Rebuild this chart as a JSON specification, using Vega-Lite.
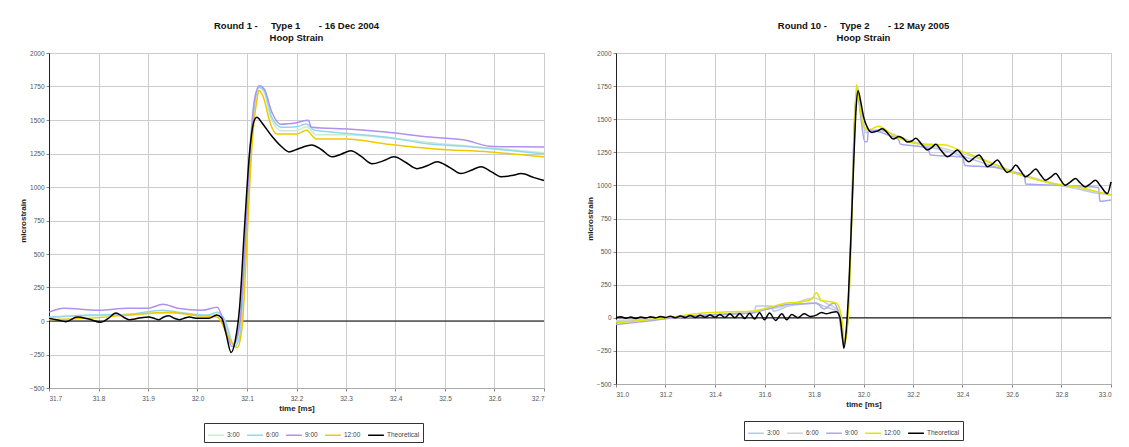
{
  "$schema": "https://vega.github.io/schema/vega-lite/v6.json",
  "background": "white",
  "padding": {"left": 18, "top": 20, "right": 10, "bottom": 2},
  "spacing": 72,
  "bounds": "flush",
  "config": {
    "font": "Liberation Sans",
    "view": {"stroke": "#bbbbbb"},
    "axis": {"labelFont": "Liberation Sans", "labelFontSize": 6.5, "labelColor": "#555555", "titleFont": "Liberation Sans", "titleFontSize": 8, "titleFontWeight": "bold", "titleColor": "#222222", "gridColor": "#cccccc", "tickColor": "#888888", "tickSize": 3},
    "axisY": {"domainColor": "#222222", "titlePadding": 2, "labelPadding": 2},
    "axisX": {"domainColor": "#aaaaaa", "labelPadding": 4, "titlePadding": 3},
    "title": {"font": "Liberation Sans", "fontSize": 9.5, "fontWeight": "bold", "color": "#111111", "anchor": "middle", "offset": 8, "lineHeight": 12},
    "legend": {"orient": "none", "direction": "horizontal", "title": null, "symbolType": "stroke", "symbolStrokeWidth": 1.5, "symbolSize": 250, "labelFontSize": 6.5, "labelColor": "#444444", "strokeColor": "#333333", "padding": 3, "columnPadding": 4, "labelOffset": 2}
  },
  "resolve": {"scale": {"color": "independent", "x": "independent", "y": "independent"}, "legend": {"color": "independent"}},
  "datasets": {
    "left": [
      {"t": 31.7, "v": 25, "s": "3:00"}, {"t": 31.75, "v": 35, "s": "3:00"}, {"t": 31.8, "v": 40, "s": "3:00"}, {"t": 31.85, "v": 45, "s": "3:00"}, {"t": 31.9, "v": 55, "s": "3:00"}, {"t": 31.95, "v": 60, "s": "3:00"}, {"t": 32.0, "v": 40, "s": "3:00"}, {"t": 32.04, "v": 50, "s": "3:00"}, {"t": 32.055, "v": 0, "s": "3:00"}, {"t": 32.07, "v": -170, "s": "3:00"}, {"t": 32.08, "v": -150, "s": "3:00"}, {"t": 32.09, "v": 200, "s": "3:00"}, {"t": 32.1, "v": 900, "s": "3:00"}, {"t": 32.11, "v": 1500, "s": "3:00"}, {"t": 32.125, "v": 1740, "s": "3:00"}, {"t": 32.135, "v": 1700, "s": "3:00"}, {"t": 32.15, "v": 1500, "s": "3:00"}, {"t": 32.17, "v": 1420, "s": "3:00"}, {"t": 32.2, "v": 1420, "s": "3:00"}, {"t": 32.22, "v": 1450, "s": "3:00"}, {"t": 32.24, "v": 1390, "s": "3:00"}, {"t": 32.3, "v": 1390, "s": "3:00"}, {"t": 32.4, "v": 1360, "s": "3:00"}, {"t": 32.5, "v": 1320, "s": "3:00"}, {"t": 32.6, "v": 1290, "s": "3:00"}, {"t": 32.7, "v": 1255, "s": "3:00"},
      {"t": 31.7, "v": 30, "s": "6:00"}, {"t": 31.75, "v": 40, "s": "6:00"}, {"t": 31.78, "v": 44, "s": "6:00"}, {"t": 31.86, "v": 50, "s": "6:00"}, {"t": 31.93, "v": 81, "s": "6:00"}, {"t": 31.96, "v": 66, "s": "6:00"}, {"t": 32.02, "v": 44, "s": "6:00"}, {"t": 32.04, "v": 66, "s": "6:00"}, {"t": 32.055, "v": 10, "s": "6:00"}, {"t": 32.075, "v": -190, "s": "6:00"}, {"t": 32.085, "v": -120, "s": "6:00"}, {"t": 32.095, "v": 400, "s": "6:00"}, {"t": 32.105, "v": 1100, "s": "6:00"}, {"t": 32.115, "v": 1600, "s": "6:00"}, {"t": 32.125, "v": 1745, "s": "6:00"}, {"t": 32.135, "v": 1720, "s": "6:00"}, {"t": 32.15, "v": 1520, "s": "6:00"}, {"t": 32.17, "v": 1446, "s": "6:00"}, {"t": 32.2, "v": 1450, "s": "6:00"}, {"t": 32.22, "v": 1470, "s": "6:00"}, {"t": 32.235, "v": 1425, "s": "6:00"}, {"t": 32.27, "v": 1410, "s": "6:00"}, {"t": 32.38, "v": 1373, "s": "6:00"}, {"t": 32.47, "v": 1320, "s": "6:00"}, {"t": 32.55, "v": 1300, "s": "6:00"}, {"t": 32.6, "v": 1284, "s": "6:00"}, {"t": 32.7, "v": 1247, "s": "6:00"},
      {"t": 31.7, "v": 66, "s": "9:00"}, {"t": 31.73, "v": 96, "s": "9:00"}, {"t": 31.8, "v": 81, "s": "9:00"}, {"t": 31.86, "v": 96, "s": "9:00"}, {"t": 31.9, "v": 96, "s": "9:00"}, {"t": 31.93, "v": 125, "s": "9:00"}, {"t": 31.96, "v": 96, "s": "9:00"}, {"t": 32.01, "v": 81, "s": "9:00"}, {"t": 32.04, "v": 103, "s": "9:00"}, {"t": 32.05, "v": 30, "s": "9:00"}, {"t": 32.07, "v": -190, "s": "9:00"}, {"t": 32.085, "v": -30, "s": "9:00"}, {"t": 32.095, "v": 500, "s": "9:00"}, {"t": 32.105, "v": 1200, "s": "9:00"}, {"t": 32.115, "v": 1650, "s": "9:00"}, {"t": 32.125, "v": 1756, "s": "9:00"}, {"t": 32.135, "v": 1730, "s": "9:00"}, {"t": 32.15, "v": 1560, "s": "9:00"}, {"t": 32.168, "v": 1469, "s": "9:00"}, {"t": 32.2, "v": 1480, "s": "9:00"}, {"t": 32.224, "v": 1498, "s": "9:00"}, {"t": 32.23, "v": 1446, "s": "9:00"}, {"t": 32.31, "v": 1431, "s": "9:00"}, {"t": 32.38, "v": 1410, "s": "9:00"}, {"t": 32.47, "v": 1373, "s": "9:00"}, {"t": 32.54, "v": 1350, "s": "9:00"}, {"t": 32.59, "v": 1305, "s": "9:00"}, {"t": 32.65, "v": 1300, "s": "9:00"}, {"t": 32.7, "v": 1299, "s": "9:00"},
      {"t": 31.7, "v": 10, "s": "12:00"}, {"t": 31.78, "v": 20, "s": "12:00"}, {"t": 31.86, "v": 44, "s": "12:00"}, {"t": 31.94, "v": 66, "s": "12:00"}, {"t": 32.0, "v": 40, "s": "12:00"}, {"t": 32.04, "v": 30, "s": "12:00"}, {"t": 32.06, "v": -100, "s": "12:00"}, {"t": 32.08, "v": -200, "s": "12:00"}, {"t": 32.09, "v": -50, "s": "12:00"}, {"t": 32.1, "v": 600, "s": "12:00"}, {"t": 32.11, "v": 1300, "s": "12:00"}, {"t": 32.12, "v": 1650, "s": "12:00"}, {"t": 32.124, "v": 1720, "s": "12:00"}, {"t": 32.135, "v": 1650, "s": "12:00"}, {"t": 32.145, "v": 1500, "s": "12:00"}, {"t": 32.16, "v": 1395, "s": "12:00"}, {"t": 32.2, "v": 1395, "s": "12:00"}, {"t": 32.22, "v": 1424, "s": "12:00"}, {"t": 32.24, "v": 1358, "s": "12:00"}, {"t": 32.3, "v": 1358, "s": "12:00"}, {"t": 32.38, "v": 1321, "s": "12:00"}, {"t": 32.48, "v": 1284, "s": "12:00"}, {"t": 32.59, "v": 1262, "s": "12:00"}, {"t": 32.7, "v": 1225, "s": "12:00"},
      {"t": 31.7, "v": 20, "s": "Theoretical"}, {"t": 31.72, "v": 5, "s": "Theoretical"}, {"t": 31.734, "v": -5, "s": "Theoretical"}, {"t": 31.757, "v": 30, "s": "Theoretical"}, {"t": 31.78, "v": 15, "s": "Theoretical"}, {"t": 31.805, "v": -10, "s": "Theoretical"}, {"t": 31.82, "v": 20, "s": "Theoretical"}, {"t": 31.835, "v": 60, "s": "Theoretical"}, {"t": 31.85, "v": 30, "s": "Theoretical"}, {"t": 31.862, "v": 10, "s": "Theoretical"}, {"t": 31.88, "v": 20, "s": "Theoretical"}, {"t": 31.902, "v": 30, "s": "Theoretical"}, {"t": 31.912, "v": 20, "s": "Theoretical"}, {"t": 31.922, "v": 10, "s": "Theoretical"}, {"t": 31.932, "v": 30, "s": "Theoretical"}, {"t": 31.942, "v": 40, "s": "Theoretical"}, {"t": 31.953, "v": 20, "s": "Theoretical"}, {"t": 31.963, "v": 10, "s": "Theoretical"}, {"t": 31.973, "v": 20, "s": "Theoretical"}, {"t": 31.983, "v": 30, "s": "Theoretical"}, {"t": 32.0, "v": 20, "s": "Theoretical"}, {"t": 32.023, "v": 20, "s": "Theoretical"}, {"t": 32.039, "v": 45, "s": "Theoretical"}, {"t": 32.049, "v": 20, "s": "Theoretical"}, {"t": 32.058, "v": -100, "s": "Theoretical"}, {"t": 32.068, "v": -235, "s": "Theoretical"}, {"t": 32.076, "v": -150, "s": "Theoretical"}, {"t": 32.085, "v": 100, "s": "Theoretical"}, {"t": 32.095, "v": 700, "s": "Theoretical"}, {"t": 32.105, "v": 1250, "s": "Theoretical"}, {"t": 32.115, "v": 1500, "s": "Theoretical"}, {"t": 32.12, "v": 1520, "s": "Theoretical"}, {"t": 32.13, "v": 1480, "s": "Theoretical"}, {"t": 32.15, "v": 1380, "s": "Theoretical"}, {"t": 32.17, "v": 1300, "s": "Theoretical"}, {"t": 32.185, "v": 1262, "s": "Theoretical"}, {"t": 32.2, "v": 1280, "s": "Theoretical"}, {"t": 32.231, "v": 1314, "s": "Theoretical"}, {"t": 32.25, "v": 1280, "s": "Theoretical"}, {"t": 32.272, "v": 1225, "s": "Theoretical"}, {"t": 32.29, "v": 1245, "s": "Theoretical"}, {"t": 32.31, "v": 1270, "s": "Theoretical"}, {"t": 32.33, "v": 1230, "s": "Theoretical"}, {"t": 32.353, "v": 1173, "s": "Theoretical"}, {"t": 32.375, "v": 1195, "s": "Theoretical"}, {"t": 32.397, "v": 1225, "s": "Theoretical"}, {"t": 32.42, "v": 1185, "s": "Theoretical"}, {"t": 32.443, "v": 1137, "s": "Theoretical"}, {"t": 32.465, "v": 1160, "s": "Theoretical"}, {"t": 32.484, "v": 1188, "s": "Theoretical"}, {"t": 32.51, "v": 1145, "s": "Theoretical"}, {"t": 32.532, "v": 1100, "s": "Theoretical"}, {"t": 32.553, "v": 1125, "s": "Theoretical"}, {"t": 32.573, "v": 1151, "s": "Theoretical"}, {"t": 32.593, "v": 1115, "s": "Theoretical"}, {"t": 32.613, "v": 1077, "s": "Theoretical"}, {"t": 32.635, "v": 1085, "s": "Theoretical"}, {"t": 32.654, "v": 1100, "s": "Theoretical"}, {"t": 32.68, "v": 1070, "s": "Theoretical"}, {"t": 32.7, "v": 1048, "s": "Theoretical"}
    ],
    "right": [
      {"t": 31.0, "v": -30, "s": "3:00"}, {"t": 31.2, "v": -5, "s": "3:00"}, {"t": 31.4, "v": 20, "s": "3:00"}, {"t": 31.56, "v": 40, "s": "3:00"}, {"t": 31.565, "v": 90, "s": "3:00"}, {"t": 31.63, "v": 90, "s": "3:00"}, {"t": 31.635, "v": 50, "s": "3:00"}, {"t": 31.7, "v": 90, "s": "3:00"}, {"t": 31.8, "v": 110, "s": "3:00"}, {"t": 31.85, "v": 80, "s": "3:00"}, {"t": 31.9, "v": 40, "s": "3:00"}, {"t": 31.92, "v": -190, "s": "3:00"}, {"t": 31.935, "v": -40, "s": "3:00"}, {"t": 31.945, "v": 350, "s": "3:00"}, {"t": 31.955, "v": 950, "s": "3:00"}, {"t": 31.965, "v": 1500, "s": "3:00"}, {"t": 31.975, "v": 1740, "s": "3:00"}, {"t": 31.99, "v": 1550, "s": "3:00"}, {"t": 32.01, "v": 1400, "s": "3:00"}, {"t": 32.06, "v": 1420, "s": "3:00"}, {"t": 32.15, "v": 1360, "s": "3:00"}, {"t": 32.25, "v": 1300, "s": "3:00"}, {"t": 32.35, "v": 1250, "s": "3:00"}, {"t": 32.45, "v": 1190, "s": "3:00"}, {"t": 32.55, "v": 1130, "s": "3:00"}, {"t": 32.65, "v": 1070, "s": "3:00"}, {"t": 32.75, "v": 1020, "s": "3:00"}, {"t": 32.85, "v": 980, "s": "3:00"}, {"t": 32.95, "v": 940, "s": "3:00"}, {"t": 33.0, "v": 930, "s": "3:00"},
      {"t": 31.0, "v": -20, "s": "6:00"}, {"t": 31.3, "v": 10, "s": "6:00"}, {"t": 31.5, "v": 40, "s": "6:00"}, {"t": 31.7, "v": 95, "s": "6:00"}, {"t": 31.8, "v": 150, "s": "6:00"}, {"t": 31.85, "v": 110, "s": "6:00"}, {"t": 31.9, "v": 50, "s": "6:00"}, {"t": 31.922, "v": -200, "s": "6:00"}, {"t": 31.935, "v": -60, "s": "6:00"}, {"t": 31.945, "v": 350, "s": "6:00"}, {"t": 31.955, "v": 950, "s": "6:00"}, {"t": 31.965, "v": 1520, "s": "6:00"}, {"t": 31.975, "v": 1750, "s": "6:00"}, {"t": 31.99, "v": 1550, "s": "6:00"}, {"t": 32.01, "v": 1420, "s": "6:00"}, {"t": 32.1, "v": 1400, "s": "6:00"}, {"t": 32.2, "v": 1330, "s": "6:00"}, {"t": 32.3, "v": 1290, "s": "6:00"}, {"t": 32.4, "v": 1240, "s": "6:00"}, {"t": 32.5, "v": 1180, "s": "6:00"}, {"t": 32.6, "v": 1110, "s": "6:00"}, {"t": 32.7, "v": 1050, "s": "6:00"}, {"t": 32.8, "v": 1000, "s": "6:00"}, {"t": 32.9, "v": 965, "s": "6:00"}, {"t": 33.0, "v": 930, "s": "6:00"},
      {"t": 31.0, "v": -50, "s": "9:00"}, {"t": 31.1, "v": -30, "s": "9:00"}, {"t": 31.27, "v": 8, "s": "9:00"}, {"t": 31.4, "v": 25, "s": "9:00"}, {"t": 31.55, "v": 36, "s": "9:00"}, {"t": 31.6, "v": 60, "s": "9:00"}, {"t": 31.69, "v": 100, "s": "9:00"}, {"t": 31.75, "v": 105, "s": "9:00"}, {"t": 31.81, "v": 112, "s": "9:00"}, {"t": 31.84, "v": 66, "s": "9:00"}, {"t": 31.88, "v": 112, "s": "9:00"}, {"t": 31.9, "v": 30, "s": "9:00"}, {"t": 31.92, "v": -200, "s": "9:00"}, {"t": 31.935, "v": -50, "s": "9:00"}, {"t": 31.945, "v": 400, "s": "9:00"}, {"t": 31.955, "v": 1000, "s": "9:00"}, {"t": 31.965, "v": 1550, "s": "9:00"}, {"t": 31.975, "v": 1700, "s": "9:00"}, {"t": 31.99, "v": 1500, "s": "9:00"}, {"t": 32.005, "v": 1330, "s": "9:00"}, {"t": 32.015, "v": 1330, "s": "9:00"}, {"t": 32.02, "v": 1420, "s": "9:00"}, {"t": 32.1, "v": 1380, "s": "9:00"}, {"t": 32.14, "v": 1350, "s": "9:00"}, {"t": 32.15, "v": 1310, "s": "9:00"}, {"t": 32.2, "v": 1300, "s": "9:00"}, {"t": 32.26, "v": 1280, "s": "9:00"}, {"t": 32.27, "v": 1230, "s": "9:00"}, {"t": 32.36, "v": 1220, "s": "9:00"}, {"t": 32.4, "v": 1215, "s": "9:00"}, {"t": 32.41, "v": 1150, "s": "9:00"}, {"t": 32.5, "v": 1140, "s": "9:00"}, {"t": 32.55, "v": 1130, "s": "9:00"}, {"t": 32.6, "v": 1100, "s": "9:00"}, {"t": 32.65, "v": 1080, "s": "9:00"}, {"t": 32.655, "v": 1010, "s": "9:00"}, {"t": 32.8, "v": 1000, "s": "9:00"}, {"t": 32.95, "v": 985, "s": "9:00"}, {"t": 32.955, "v": 880, "s": "9:00"}, {"t": 33.0, "v": 890, "s": "9:00"},
      {"t": 31.0, "v": -40, "s": "12:00"}, {"t": 31.1, "v": -20, "s": "12:00"}, {"t": 31.2, "v": 0, "s": "12:00"}, {"t": 31.35, "v": 36, "s": "12:00"}, {"t": 31.45, "v": 45, "s": "12:00"}, {"t": 31.55, "v": 49, "s": "12:00"}, {"t": 31.62, "v": 80, "s": "12:00"}, {"t": 31.69, "v": 112, "s": "12:00"}, {"t": 31.75, "v": 120, "s": "12:00"}, {"t": 31.79, "v": 140, "s": "12:00"}, {"t": 31.81, "v": 190, "s": "12:00"}, {"t": 31.83, "v": 130, "s": "12:00"}, {"t": 31.85, "v": 125, "s": "12:00"}, {"t": 31.89, "v": 112, "s": "12:00"}, {"t": 31.91, "v": 20, "s": "12:00"}, {"t": 31.925, "v": -180, "s": "12:00"}, {"t": 31.935, "v": -60, "s": "12:00"}, {"t": 31.945, "v": 300, "s": "12:00"}, {"t": 31.955, "v": 900, "s": "12:00"}, {"t": 31.965, "v": 1500, "s": "12:00"}, {"t": 31.972, "v": 1760, "s": "12:00"}, {"t": 31.985, "v": 1600, "s": "12:00"}, {"t": 32.0, "v": 1450, "s": "12:00"}, {"t": 32.02, "v": 1420, "s": "12:00"}, {"t": 32.06, "v": 1446, "s": "12:00"}, {"t": 32.12, "v": 1380, "s": "12:00"}, {"t": 32.2, "v": 1321, "s": "12:00"}, {"t": 32.27, "v": 1310, "s": "12:00"}, {"t": 32.33, "v": 1306, "s": "12:00"}, {"t": 32.4, "v": 1255, "s": "12:00"}, {"t": 32.47, "v": 1207, "s": "12:00"}, {"t": 32.54, "v": 1150, "s": "12:00"}, {"t": 32.6, "v": 1100, "s": "12:00"}, {"t": 32.67, "v": 1060, "s": "12:00"}, {"t": 32.74, "v": 1024, "s": "12:00"}, {"t": 32.8, "v": 1005, "s": "12:00"}, {"t": 32.87, "v": 986, "s": "12:00"}, {"t": 32.94, "v": 955, "s": "12:00"}, {"t": 33.0, "v": 925, "s": "12:00"},
      {"t": 31.0, "v": 0, "s": "Theoretical"}, {"t": 31.02, "v": 8, "s": "Theoretical"}, {"t": 31.04, "v": -3, "s": "Theoretical"}, {"t": 31.06, "v": 6, "s": "Theoretical"}, {"t": 31.08, "v": -5, "s": "Theoretical"}, {"t": 31.1, "v": 6, "s": "Theoretical"}, {"t": 31.12, "v": -2, "s": "Theoretical"}, {"t": 31.14, "v": 8, "s": "Theoretical"}, {"t": 31.16, "v": 0, "s": "Theoretical"}, {"t": 31.18, "v": 10, "s": "Theoretical"}, {"t": 31.2, "v": 2, "s": "Theoretical"}, {"t": 31.22, "v": 12, "s": "Theoretical"}, {"t": 31.24, "v": 0, "s": "Theoretical"}, {"t": 31.26, "v": 14, "s": "Theoretical"}, {"t": 31.28, "v": 2, "s": "Theoretical"}, {"t": 31.3, "v": 18, "s": "Theoretical"}, {"t": 31.32, "v": 2, "s": "Theoretical"}, {"t": 31.34, "v": 20, "s": "Theoretical"}, {"t": 31.36, "v": 4, "s": "Theoretical"}, {"t": 31.38, "v": 22, "s": "Theoretical"}, {"t": 31.4, "v": 4, "s": "Theoretical"}, {"t": 31.42, "v": 25, "s": "Theoretical"}, {"t": 31.44, "v": 2, "s": "Theoretical"}, {"t": 31.46, "v": 30, "s": "Theoretical"}, {"t": 31.48, "v": 0, "s": "Theoretical"}, {"t": 31.5, "v": 32, "s": "Theoretical"}, {"t": 31.52, "v": -5, "s": "Theoretical"}, {"t": 31.54, "v": 35, "s": "Theoretical"}, {"t": 31.56, "v": -10, "s": "Theoretical"}, {"t": 31.58, "v": 38, "s": "Theoretical"}, {"t": 31.6, "v": -15, "s": "Theoretical"}, {"t": 31.62, "v": 36, "s": "Theoretical"}, {"t": 31.645, "v": -20, "s": "Theoretical"}, {"t": 31.67, "v": 30, "s": "Theoretical"}, {"t": 31.69, "v": -15, "s": "Theoretical"}, {"t": 31.71, "v": 25, "s": "Theoretical"}, {"t": 31.735, "v": 0, "s": "Theoretical"}, {"t": 31.76, "v": 30, "s": "Theoretical"}, {"t": 31.785, "v": 10, "s": "Theoretical"}, {"t": 31.81, "v": 20, "s": "Theoretical"}, {"t": 31.83, "v": 40, "s": "Theoretical"}, {"t": 31.85, "v": 30, "s": "Theoretical"}, {"t": 31.87, "v": 40, "s": "Theoretical"}, {"t": 31.89, "v": 45, "s": "Theoretical"}, {"t": 31.905, "v": 0, "s": "Theoretical"}, {"t": 31.915, "v": -150, "s": "Theoretical"}, {"t": 31.921, "v": -230, "s": "Theoretical"}, {"t": 31.93, "v": -100, "s": "Theoretical"}, {"t": 31.94, "v": 200, "s": "Theoretical"}, {"t": 31.95, "v": 650, "s": "Theoretical"}, {"t": 31.96, "v": 1150, "s": "Theoretical"}, {"t": 31.97, "v": 1580, "s": "Theoretical"}, {"t": 31.978, "v": 1715, "s": "Theoretical"}, {"t": 31.99, "v": 1620, "s": "Theoretical"}, {"t": 32.0, "v": 1520, "s": "Theoretical"}, {"t": 32.015, "v": 1440, "s": "Theoretical"}, {"t": 32.034, "v": 1400, "s": "Theoretical"}, {"t": 32.055, "v": 1410, "s": "Theoretical"}, {"t": 32.076, "v": 1428, "s": "Theoretical"}, {"t": 32.09, "v": 1410, "s": "Theoretical"}, {"t": 32.103, "v": 1382, "s": "Theoretical"}, {"t": 32.12, "v": 1350, "s": "Theoretical"}, {"t": 32.143, "v": 1369, "s": "Theoretical"}, {"t": 32.16, "v": 1355, "s": "Theoretical"}, {"t": 32.177, "v": 1327, "s": "Theoretical"}, {"t": 32.195, "v": 1335, "s": "Theoretical"}, {"t": 32.211, "v": 1357, "s": "Theoretical"}, {"t": 32.235, "v": 1310, "s": "Theoretical"}, {"t": 32.258, "v": 1268, "s": "Theoretical"}, {"t": 32.275, "v": 1285, "s": "Theoretical"}, {"t": 32.292, "v": 1311, "s": "Theoretical"}, {"t": 32.315, "v": 1260, "s": "Theoretical"}, {"t": 32.339, "v": 1217, "s": "Theoretical"}, {"t": 32.36, "v": 1240, "s": "Theoretical"}, {"t": 32.379, "v": 1268, "s": "Theoretical"}, {"t": 32.4, "v": 1225, "s": "Theoretical"}, {"t": 32.426, "v": 1179, "s": "Theoretical"}, {"t": 32.445, "v": 1205, "s": "Theoretical"}, {"t": 32.467, "v": 1230, "s": "Theoretical"}, {"t": 32.485, "v": 1185, "s": "Theoretical"}, {"t": 32.5, "v": 1141, "s": "Theoretical"}, {"t": 32.52, "v": 1160, "s": "Theoretical"}, {"t": 32.541, "v": 1192, "s": "Theoretical"}, {"t": 32.56, "v": 1145, "s": "Theoretical"}, {"t": 32.58, "v": 1098, "s": "Theoretical"}, {"t": 32.6, "v": 1120, "s": "Theoretical"}, {"t": 32.615, "v": 1154, "s": "Theoretical"}, {"t": 32.635, "v": 1110, "s": "Theoretical"}, {"t": 32.655, "v": 1065, "s": "Theoretical"}, {"t": 32.675, "v": 1090, "s": "Theoretical"}, {"t": 32.696, "v": 1123, "s": "Theoretical"}, {"t": 32.715, "v": 1080, "s": "Theoretical"}, {"t": 32.735, "v": 1039, "s": "Theoretical"}, {"t": 32.755, "v": 1060, "s": "Theoretical"}, {"t": 32.777, "v": 1090, "s": "Theoretical"}, {"t": 32.795, "v": 1045, "s": "Theoretical"}, {"t": 32.815, "v": 1001, "s": "Theoretical"}, {"t": 32.835, "v": 1025, "s": "Theoretical"}, {"t": 32.857, "v": 1052, "s": "Theoretical"}, {"t": 32.875, "v": 1020, "s": "Theoretical"}, {"t": 32.896, "v": 988, "s": "Theoretical"}, {"t": 32.915, "v": 1010, "s": "Theoretical"}, {"t": 32.937, "v": 1039, "s": "Theoretical"}, {"t": 32.96, "v": 990, "s": "Theoretical"}, {"t": 32.985, "v": 938, "s": "Theoretical"}, {"t": 33.0, "v": 1026, "s": "Theoretical"}
    ]
  },
  "hconcat": [
    {
      "width": 495,
      "height": 335,
      "title": {"text": ["Round 1 -\u00a0\u00a0\u00a0\u00a0 Type 1\u00a0\u00a0\u00a0\u00a0\u00a0\u00a0 - 16 Dec 2004", "Hoop Strain"]},
      "layer": [
        {
          "data": {"values": [{"z": 0}]},
          "mark": {"type": "rule", "color": "#000000", "strokeWidth": 1},
          "encoding": {"y": {"field": "z", "type": "quantitative", "title": "microstrain", "scale": {"domain": [-500, 2000], "nice": false}, "axis": {"values": [-500, -250, 0, 250, 500, 750, 1000, 1250, 1500, 1750, 2000], "format": "d"}}}
        },
        {
          "data": {"name": "left"},
          "mark": {"type": "line", "strokeWidth": 1.5, "interpolate": "monotone"},
          "encoding": {
            "x": {"field": "t", "type": "quantitative", "title": "time [ms]", "scale": {"domain": [31.7, 32.7], "nice": false, "zero": false}, "axis": {"values": [31.7, 31.8, 31.9, 32.0, 32.1, 32.2, 32.3, 32.4, 32.5, 32.6, 32.7], "format": ".1f"}},
            "y": {"field": "v", "type": "quantitative", "title": "microstrain", "scale": {"domain": [-500, 2000], "nice": false}, "axis": {"values": [-500, -250, 0, 250, 500, 750, 1000, 1250, 1500, 1750, 2000], "format": "d"}},
            "color": {"field": "s", "type": "nominal", "scale": {"domain": ["3:00", "6:00", "9:00", "12:00", "Theoretical"], "range": ["#c8ecd0", "#90d8f0", "#b090f0", "#f0c800", "#000000"]}, "legend": {"legendX": 155, "legendY": 370}},
            "order": {"field": "t", "type": "quantitative"}
          }
        }
      ]
    },
    {
      "width": 495,
      "height": 331,
      "title": {"text": ["Round 10 -\u00a0\u00a0\u00a0\u00a0 Type 2\u00a0\u00a0\u00a0\u00a0\u00a0\u00a0 - 12 May 2005", "Hoop Strain"]},
      "layer": [
        {
          "data": {"values": [{"z": 0}]},
          "mark": {"type": "rule", "color": "#000000", "strokeWidth": 1},
          "encoding": {"y": {"field": "z", "type": "quantitative", "title": "microstrain", "scale": {"domain": [-500, 2000], "nice": false}, "axis": {"values": [-500, -250, 0, 250, 500, 750, 1000, 1250, 1500, 1750, 2000], "format": "d"}}}
        },
        {
          "data": {"name": "right"},
          "mark": {"type": "line", "strokeWidth": 1.5, "interpolate": "monotone"},
          "encoding": {
            "x": {"field": "t", "type": "quantitative", "title": "time [ms]", "scale": {"domain": [31.0, 33.0], "nice": false, "zero": false}, "axis": {"values": [31.0, 31.2, 31.4, 31.6, 31.8, 32.0, 32.2, 32.4, 32.6, 32.8, 33.0], "format": ".1f"}},
            "y": {"field": "v", "type": "quantitative", "title": "microstrain", "scale": {"domain": [-500, 2000], "nice": false}, "axis": {"values": [-500, -250, 0, 250, 500, 750, 1000, 1250, 1500, 1750, 2000], "format": "d"}},
            "color": {"field": "s", "type": "nominal", "scale": {"domain": ["3:00", "6:00", "9:00", "12:00", "Theoretical"], "range": ["#b8c8f0", "#cfd0dc", "#a8a8f0", "#e4e400", "#000000"]}, "legend": {"legendX": 128, "legendY": 368}},
            "order": {"field": "t", "type": "quantitative"}
          }
        }
      ]
    }
  ]
}
